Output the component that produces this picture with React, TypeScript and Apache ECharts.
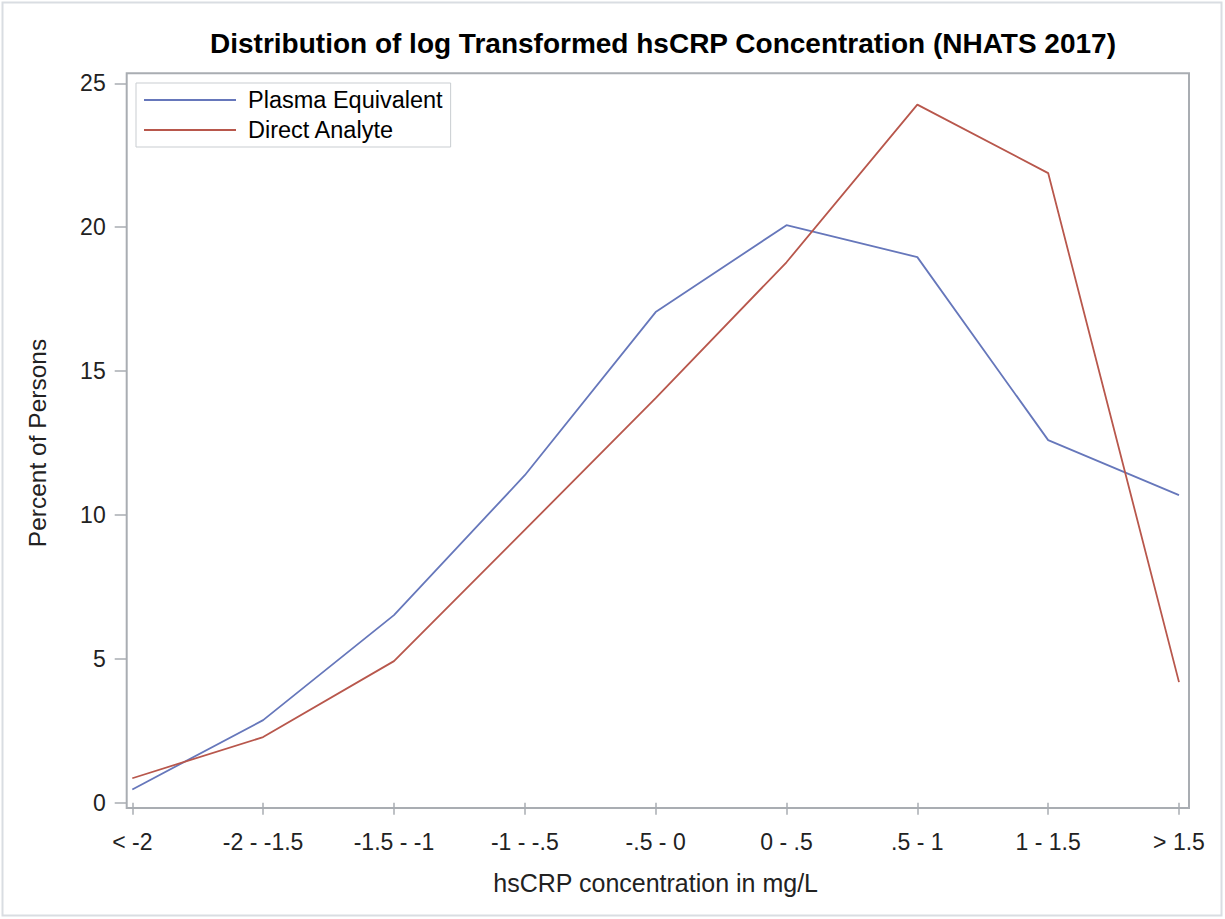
import React, { useEffect, useRef } from "react";
import * as echarts from "echarts";

const categories = ["< -2", "-2 - -1.5", "-1.5 - -1", "-1 - -.5", "-.5 - 0", "0 - .5", ".5 - 1", "1 - 1.5", "> 1.5"];
const plasmaEquivalent = [0.46, 2.87, 6.52, 11.38, 17.05, 20.07, 18.96, 12.6, 10.69];
const directAnalyte = [0.85, 2.28, 4.92, 9.48, 14.06, 18.78, 24.26, 21.88, 4.19];
const yTicks = { min: 0, max: 25, interval: 5 };

const FONT = "'Liberation Sans', Arial, sans-serif";
const FRAME = "#a9adb2";

export default function App() {
  const ref = useRef<HTMLDivElement>(null);
  useEffect(() => {
    document.body.style.margin = "0";
    const chart = echarts.init(ref.current!, null, { renderer: "svg" });
    chart.setOption({
      animation: false,
      backgroundColor: "#ffffff",
      title: {
        text: "Distribution of log Transformed hsCRP Concentration (NHATS 2017)",
        left: 658,
        top: 24,
        textAlign: "center",
        textStyle: { fontFamily: FONT, fontSize: 28, fontWeight: "bold", color: "#000" },
      },
      legend: {
        orient: "vertical",
        left: 136,
        top: 83,
        padding: [5, 8, 5, 7],
        itemGap: 6,
        itemWidth: 92,
        itemHeight: 12,
        borderColor: "#c9cdd1",
        borderWidth: 1,
        itemStyle: { opacity: 0 },
        textStyle: { fontFamily: FONT, fontSize: 23.5, color: "#000", padding: [0, 0, 0, 7] },
        data: ["Plasma Equivalent", "Direct Analyte"],
      },
      grid: { left: 132.3, right: 46, top: 83.3, bottom: 116.3, containLabel: false },
      xAxis: {
        type: "category",
        data: categories,
        boundaryGap: false,
        offset: 5.3,
        axisLine: { show: false },
        axisTick: { show: true, length: 12, lineStyle: { color: FRAME, width: 1.5 } },
        axisLabel: { fontFamily: FONT, fontSize: 23, color: "#222", margin: 22, interval: 0 },
        name: "hsCRP concentration in mg/L",
        nameLocation: "middle",
        nameGap: 62,
        nameTextStyle: { fontFamily: FONT, fontSize: 25, color: "#222" },
        splitLine: { show: false },
      },
      yAxis: {
        type: "value",
        min: yTicks.min,
        max: yTicks.max,
        interval: yTicks.interval,
        offset: 5.6,
        axisLine: { show: false },
        axisTick: { show: true, length: 12, lineStyle: { color: FRAME, width: 1.5 } },
        axisLabel: { fontFamily: FONT, fontSize: 23, color: "#222", margin: 21 },
        splitLine: { show: false },
        name: "Percent of Persons",
        nameLocation: "middle",
        nameGap: 77,
        nameTextStyle: { fontFamily: FONT, fontSize: 24.5, color: "#222" },
      },
      graphic: [
        {
          type: "rect",
          shape: { x: 2.5, y: 2.5, width: 1219, height: 913 },
          style: { fill: "none", stroke: "#d9dde2", lineWidth: 2 },
          silent: true,
        },
        {
          type: "rect",
          shape: { x: 126.7, y: 73.3, width: 1062.3, height: 734.7 },
          style: { fill: "none", stroke: FRAME, lineWidth: 2 },
          silent: true,
        },
      ],
      series: [
        {
          name: "Plasma Equivalent",
          type: "line",
          data: plasmaEquivalent,
          symbol: "none",
          lineStyle: { color: "#6677bb", width: 1.8 },
          itemStyle: { color: "#6677bb" },
        },
        {
          name: "Direct Analyte",
          type: "line",
          data: directAnalyte,
          symbol: "none",
          lineStyle: { color: "#b8574c", width: 1.8 },
          itemStyle: { color: "#b8574c" },
        },
      ],
    });
    return () => chart.dispose();
  }, []);
  return <div ref={ref} style={{ width: 1225, height: 919 }} />;
}
